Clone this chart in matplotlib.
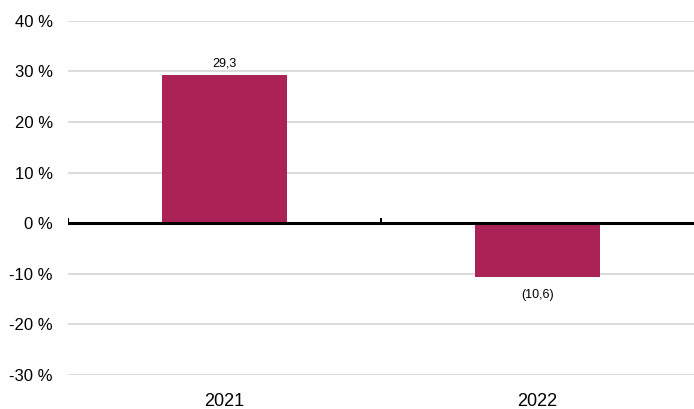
import numpy as np
import matplotlib.pyplot as plt

plt.rcParams['font.family'] = ['Liberation Sans', 'DejaVu Sans']

# Data
years = ['2021', '2022']
values = [29.3, -10.6]
value_labels = ['29,3', '(10,6)']
yticks = [-30, -20, -10, 0, 10, 20, 30, 40]

bar_color = '#AB2257'
grid_color = '#D9D9D9'

fig = plt.figure(figsize=(6.94, 4.09), dpi=100)
ax = fig.add_axes([0.098, 0.083, 0.902, 0.866])

x = np.arange(len(years))
ax.bar(x, values, width=0.4, color=bar_color, zorder=2)

ax.set_xlim(-0.5, len(years) - 0.5)
ax.set_ylim(-30, 40)
ax.set_yticks(yticks)
ax.set_yticklabels([f'{t} %' for t in yticks])
ax.grid(axis='y', color=grid_color, linewidth=1.3, zorder=0)
ax.tick_params(axis='y', length=0, pad=11, labelsize=12)
ax.set_xticks(x)
ax.set_xticklabels(years)
ax.tick_params(axis='x', length=0, pad=13, labelsize=13)
for s in ax.spines.values():
    s.set_visible(False)

# zero line and category boundary ticks
ax.axhline(0, color='black', linewidth=2.2, zorder=3)
bounds = np.arange(len(years)) - 0.5
ax.vlines(bounds, 0, 1.1, color='black', linewidth=1.5, zorder=3)

# value labels
for xi, v, lab in zip(x, values, value_labels):
    if v >= 0:
        ax.annotate(lab, (xi, v), xytext=(0, 4), textcoords='offset points',
                    ha='center', va='bottom', fontsize=9)
    else:
        ax.annotate(lab, (xi, v), xytext=(0, -9), textcoords='offset points',
                    ha='center', va='top', fontsize=9)

fig.savefig('out.png', dpi=100)
